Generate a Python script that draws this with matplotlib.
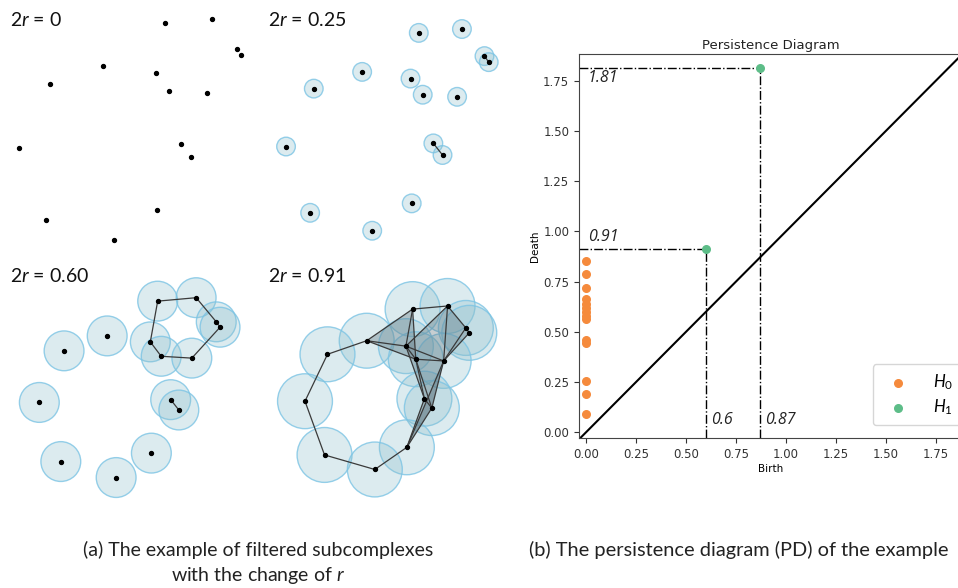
import matplotlib.pyplot as plt
from matplotlib.patches import Circle, Polygon
import numpy as np

plt.rcParams['mathtext.fontset'] = 'custom'
plt.rcParams['mathtext.rm'] = 'Lato'
plt.rcParams['mathtext.it'] = 'Lato:italic'

# point cloud (same 15 points in every filtration panel)
pts_x = [2.021, 2.601, 2.904, 2.961, 1.260, 1.910, 0.610, 2.074, 2.536,
         0.237, 2.217, 2.340, 1.926, 0.561, 1.395]
pts_y = [2.782, 2.834, 2.470, 2.389, 2.258, 2.168, 2.033, 1.951, 1.923,
         1.255, 1.297, 1.141, 0.491, 0.364, 0.123]

diam = [0, 0.25, 0.60, 0.91]
panel_labels = ['2$r$ = 0', '2$r$ = 0.25', '2$r$ = 0.60', '2$r$ = 0.91']

# edges / filled triangles (1-based point indices) for each panel
edges = [
    [],
    [(3, 4), (11, 12)],
    [(1, 2), (2, 3), (3, 4), (4, 9), (9, 8), (8, 6), (6, 1), (11, 12)],
    [(10, 7), (7, 5), (10, 14), (14, 15), (15, 13), (5, 1), (5, 6), (5, 8),
     (1, 2), (1, 6), (1, 8), (2, 6), (2, 9), (2, 3), (3, 4), (3, 9), (4, 9),
     (6, 8), (6, 9), (8, 9), (6, 11), (8, 11), (8, 12), (9, 12), (11, 12),
     (11, 13), (12, 13), (9, 13)],
]
triangles = [
    [], [], [],
    [(5, 1, 6), (5, 6, 8), (1, 6, 8), (2, 6, 9), (2, 3, 9), (3, 4, 9),
     (6, 8, 9), (6, 8, 11), (8, 11, 12), (8, 9, 12), (9, 12, 13), (11, 12, 13)],
]

# persistence diagram
h0_birth = [0.0] * 14
h0_death = [0.09, 0.19, 0.255, 0.445, 0.46, 0.565, 0.58, 0.60, 0.62, 0.64,
            0.665, 0.72, 0.79, 0.85]
h1_birth = [0.60, 0.87]
h1_death = [0.91, 1.81]

W, H = 958, 588
fig = plt.figure(figsize=(W / 100, H / 100), dpi=100)


def frac(x, y, w, h):
    return [x / W, 1 - (y + h) / H, w / W, h / H]


K = 81.5
# (scale, x offset, y offset, box x, box y, label x, label y) in pixels
panels = [
    (1.0, 0.0, 0.0, 0, 0, 10, 20),
    (0.913, 268.4, 11.65, 258, 0, 268, 20),
    (0.814, 23.6, 282.2, 0, 255, 10, 276),
    (0.74, 290.7, 291.9, 258, 255, 268, 276),
]
bw, bh = 257, 255

for k, (s, ox, oy, bx, by, lx, ly) in enumerate(panels):
    ax = fig.add_axes(frac(bx, by, bw, bh))
    sc = s * K
    ax.set_xlim((bx - ox) / sc, (bx + bw - ox) / sc)
    ax.set_ylim((oy + s * 250 - (by + bh)) / sc, (oy + s * 250 - by) / sc)
    ax.axis('off')
    r = diam[k] / 2
    if r > 0:
        for x, y in zip(pts_x, pts_y):
            ax.add_patch(Circle((x, y), r, facecolor=(0.55, 0.75, 0.8),
                                alpha=0.3, edgecolor='none', zorder=1))
            ax.add_patch(Circle((x, y), r, facecolor='none',
                                edgecolor='#7cc4e4', alpha=0.8, lw=1.0, zorder=1))
    for tri in triangles[k]:
        xy = [(pts_x[i - 1], pts_y[i - 1]) for i in tri]
        ax.add_patch(Polygon(xy, closed=True, facecolor='#556b75', alpha=0.33,
                             edgecolor='none', zorder=2))
    for i, j in edges[k]:
        ax.plot([pts_x[i - 1], pts_x[j - 1]], [pts_y[i - 1], pts_y[j - 1]],
                color='#3a3a3a', lw=0.9, zorder=3)
    ax.scatter(pts_x, pts_y, s=8, color='black', zorder=4)
    fig.text(lx / W, 1 - ly / H, panel_labels[k], fontsize=14,
             family='Lato', va='center', ha='left', color='#111111')

# persistence diagram axes
x0, y0 = 586.0, 432.3      # pixel of (0, 0)
px = 200.0
xmin, xmax = -0.035, 1.88
ymin, ymax = -0.03, 1.88
ax = fig.add_axes(frac(x0 + xmin * px, y0 - ymax * 201, (xmax - xmin) * px,
                       (ymax - ymin) * 201))
ax.set_xlim(xmin, xmax)
ax.set_ylim(ymin, ymax)
ax.spines['right'].set_visible(False)
for sp in ax.spines.values():
    sp.set_color('#444444')

ax.plot([xmin, xmax], [xmin, xmax], color='black', lw=1.5, zorder=1)
for b, d in zip(h1_birth, h1_death):
    ax.plot([xmin, b], [d, d], color='black', ls='-.', lw=1.0, zorder=1)
    ax.plot([b, b], [ymin, d], color='black', ls='-.', lw=1.0, zorder=1)
ax.scatter(h0_birth, h0_death, s=30, color='#f58a3c', label='$H_0$', zorder=3)
ax.scatter(h1_birth, h1_death, s=30, color='#5dbd88', label='$H_1$', zorder=3)

tkw = dict(fontsize=11.5, style='italic', family='Open Sans', color='#222222')
ax.text(0.01, 1.765, '1.81', va='center', **tkw)
ax.text(0.01, 0.97, '0.91', va='center', **tkw)
ax.text(0.625, 0.06, '0.6', va='center', **tkw)
ax.text(0.895, 0.06, '0.87', va='center', **tkw)

ax.set_xticks([0, 0.25, 0.5, 0.75, 1.0, 1.25, 1.5, 1.75])
ax.set_yticks([0, 0.25, 0.5, 0.75, 1.0, 1.25, 1.5, 1.75])
ax.tick_params(labelsize=8.5, colors='#333333')
ax.set_title('Persistence Diagram', fontsize=9.5, color='#222222', pad=4)
ax.set_xlabel('Birth', fontsize=7.5, labelpad=2)
ax.set_ylabel('Death', fontsize=7.5, labelpad=2)
ax.legend(loc='lower right', bbox_to_anchor=(1.02, 0.012),
          handletextpad=1.1, borderpad=0.5, labelspacing=0.3,
          prop={'family': 'DejaVu Sans', 'size': 12})

# captions
cap = dict(fontsize=14, family='Lato', ha='center', va='center', color='#222222')
fig.text(258 / W, 1 - 550 / H, '(a) The example of filtered subcomplexes', **cap)
fig.text(258 / W, 1 - 575 / H, 'with the change of $r$', **cap)
fig.text(739 / W, 1 - 550 / H, '(b) The persistence diagram (PD) of the example',
         fontsize=14.4, family='Lato', ha='center', va='center', color='#222222')

plt.savefig('out.png', dpi=100)
